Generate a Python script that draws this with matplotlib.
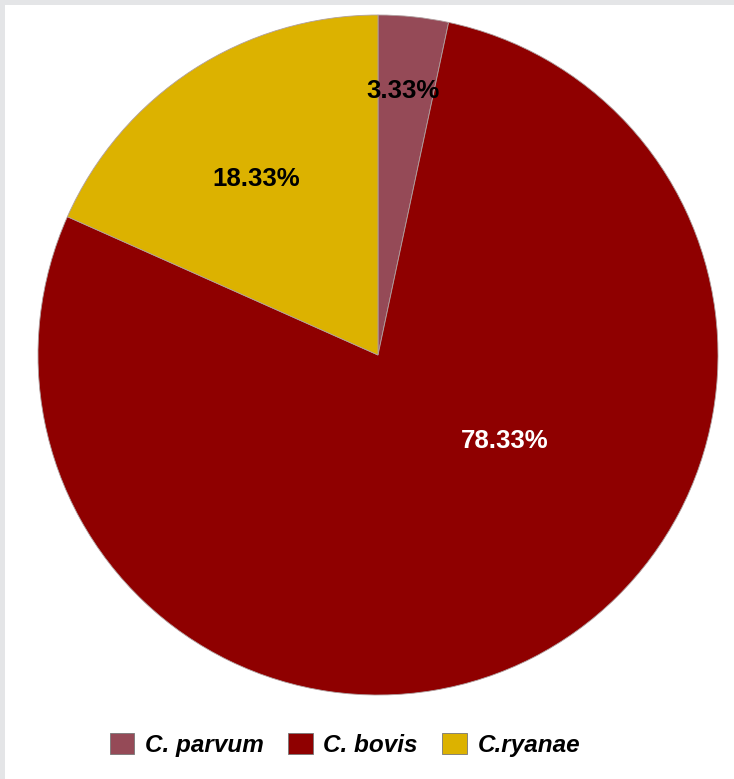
import numpy as np
import matplotlib.pyplot as plt
from matplotlib.patches import Rectangle

species = ["C. parvum", "C. bovis", "C.ryanae"]
shares = [3.33, 78.33, 18.33]
colors = ["#954a57", "#8f0000", "#dcb200"]

# label placement per wedge: (radius fraction, angle in degrees), text colour
label_spots = [(0.78, 84.6), (0.45, -34.0), (0.63, 124.6)]
label_colors = ["black", "white", "black"]

plt.rcParams["font.family"] = ["Liberation Sans", "DejaVu Sans"]

fig = plt.figure(figsize=(7.34, 7.79), dpi=100)
fig.patch.set_facecolor("#e4e5e7")
# white panel inside the thin grey frame
panel = Rectangle((5 / 734, 0), 1, 1 - 5 / 779, transform=fig.transFigure,
                  facecolor="white", edgecolor="none", zorder=-1)
fig.patches.append(panel)

ax = fig.add_axes([38 / 734, 84 / 779, 680 / 734, 680 / 779])
ax.set_zorder(2)

# show the recorded shares rather than the renormalised percentages
share_iter = iter(shares)
wedges, texts, autotexts = ax.pie(
    shares,
    colors=colors,
    startangle=90,
    counterclock=False,
    autopct=lambda p: f"{next(share_iter):.2f}%",
    wedgeprops={"linewidth": 0.6, "edgecolor": "#b0a0a0"},
    textprops={"fontsize": 18.5, "fontweight": "bold"},
)

for t, (r, ang), c in zip(autotexts, label_spots, label_colors):
    a = np.deg2rad(ang)
    t.set_position((r * np.cos(a), r * np.sin(a)))
    t.set_color(c)

ax.set_xlim(-1, 1)
ax.set_ylim(-1, 1)
ax.set_aspect("equal")
ax.axis("off")

handles = [Rectangle((0, 0), 1, 1, facecolor=c, edgecolor="#777777", linewidth=0.6)
           for c in colors]
leg = fig.legend(
    handles, species,
    loc="center",
    bbox_to_anchor=(0.47, 0.044),
    ncol=3,
    frameon=False,
    prop={"size": 17.5, "weight": "bold", "style": "italic"},
    handlelength=1.0,
    handleheight=1.0,
    handletextpad=0.45,
    columnspacing=1.0,
)
leg.set_zorder(3)

fig.savefig("out.png", dpi=100, facecolor=fig.get_facecolor())
